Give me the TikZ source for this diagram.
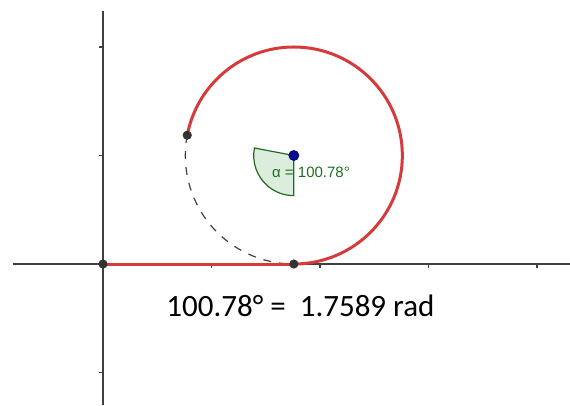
\documentclass[tikz,border=0pt]{standalone}
\usepackage{fontspec}
\setmainfont{Carlito}
\newfontfamily\labelfont{Liberation Sans}
\usetikzlibrary{calc}
\definecolor{arccol}{HTML}{D63A3A}
\definecolor{axiscol}{HTML}{404040}
\definecolor{anglecol}{HTML}{1E6E1E}
\definecolor{anglefill}{HTML}{DDEDDD}
\definecolor{ptcol}{HTML}{333333}
\definecolor{ctrcol}{HTML}{0A0A96}

\begin{document}
\begin{tikzpicture}[x=1.907cm,y=1.907cm,
  axis/.style={axiscol, line width=0.9pt},
  roll/.style={arccol, line width=1.5pt},
  dot/.style={circle, fill=ptcol, inner sep=0pt, minimum size=4.6pt},
  ctrdot/.style={circle, fill=ctrcol, draw=ctrcol!70!black, inner sep=0pt, minimum size=5pt}]
\useasboundingbox (-0.949,-1.2995) rectangle (4.304,2.433);

% axes and ticks
\draw[axis] (-0.832,0) -- (4.304,0);
\draw[axis] (0,2.332) -- (0,-1.2995);
\foreach \x in {1,...,4} \draw[axis, line width=0.6pt] (\x,0) -- (\x,-0.035);
\foreach \y in {-1,1,2} \draw[axis, line width=0.6pt] (0,\y) -- (-0.035,\y);

% angle sector
\coordinate (C) at (1.7589,1);
\filldraw[anglecol, fill=anglefill, line width=0.6pt] (C) -- ++(169.22:0.37) arc (169.22:270:0.37) -- cycle;
\node[anglecol, font=\labelfont\fontsize{7.5}{9}\selectfont] (alpha) at (1.917,0.849) {α = 100.78°};

% unrolled arc and rolled part
\draw[axiscol, dashed, dash pattern=on 4pt off 4pt, line width=0.6pt] ($(C)+(169.22:1)$) arc (169.22:270:1);
\draw[roll] (1.7589,0) arc (-90:169.22:1);
\draw[roll] (0,0) -- (1.7589,0);

\node[dot] (O) at (0,0) {};
\node[dot] (T) at (1.7589,0) {};
\node[dot] (P) at ($(C)+(169.22:1)$) {};
\node[ctrdot] (M) at (C) {};

\node[font=\fontsize{15.5}{18}\selectfont] (eq) at (1.820,-0.387) {100.78° =\ \ 1.7589 rad};
\end{tikzpicture}
\end{document}
